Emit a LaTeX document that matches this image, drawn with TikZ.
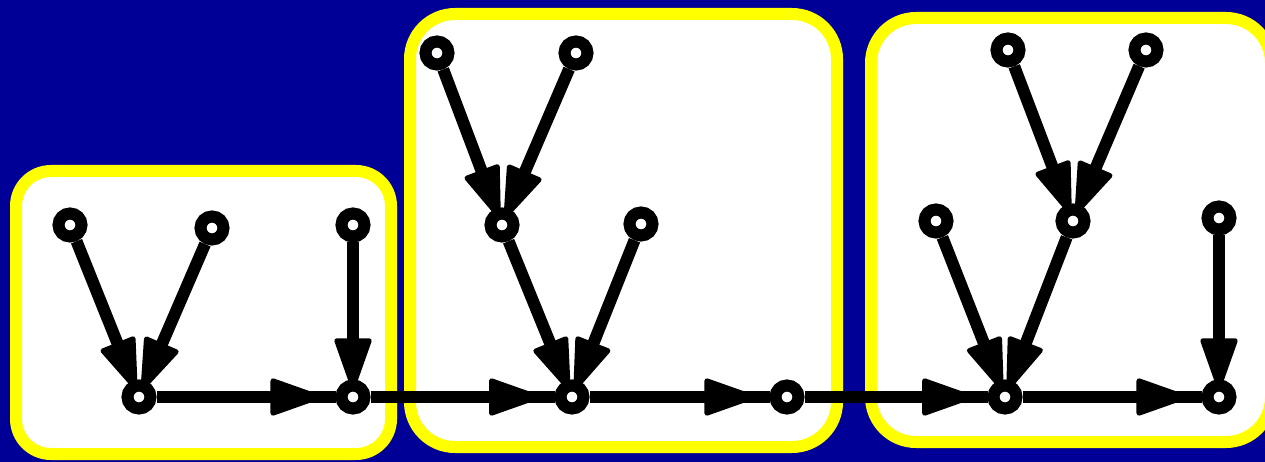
\documentclass[tikz,border=0pt]{standalone}
\usepackage{xcolor}
\usepackage{tikz}
\usetikzlibrary{arrows.meta, decorations.markings}
\definecolor{navybg}{RGB}{0,0,150}
\definecolor{groupyellow}{RGB}{255,255,0}
\tikzset{
  >={Triangle[length=56pt, width=38pt, line width=5pt, round]},
  dot/.style={circle, draw=black, fill=white, line width=12pt, minimum size=23pt, inner sep=0pt},
  group/.style={draw=groupyellow, fill=white, line width=12pt, rounded corners=40pt},
  feed/.style={line width=12pt, ->, shorten >=-9.5pt},
  flow/.style={line width=12pt, postaction={decorate},
    decoration={markings, mark=at position 0.92 with {\arrow{>}}}},
}

\begin{document}
\begin{tikzpicture}[x=1pt, y=-1pt]
  % background
  \fill[navybg] (0,0) rectangle (1265,462);
  \useasboundingbox (0,0) rectangle (1265,462);
  % groups
  \draw[group, rounded corners=35pt] (16,171) rectangle (391,454);
  \draw[group, rounded corners=45pt] (410,14) rectangle (837,447);
  \draw[group, rounded corners=45pt] (871,18) rectangle (1271,442);

  % first group
  \node[dot] (p1) at (70,225) {};
  \node[dot] (p2) at (212,228) {};
  \node[dot] (p3) at (353,225) {};
  \node[dot] (p4) at (139,397) {};
  \node[dot] (p5) at (353,397) {};
  % second group
  \node[dot] (q1) at (437,53) {};
  \node[dot] (q2) at (576,53) {};
  \node[dot] (q3) at (502,225) {};
  \node[dot] (q4) at (641,224) {};
  \node[dot] (q5) at (572,397) {};
  \node[dot] (q6) at (787,397) {};
  % third group
  \node[dot] (r1) at (1008,50) {};
  \node[dot] (r2) at (1146,50) {};
  \node[dot] (r3) at (936,221) {};
  \node[dot] (r4) at (1073,221) {};
  \node[dot] (r5) at (1219,218) {};
  \node[dot] (r6) at (1005,397) {};
  \node[dot] (r7) at (1219,397) {};

  % main line
  \draw[flow] (p4) -- (p5);
  \draw[flow] (p5) -- (q5);
  \draw[flow] (q5) -- (q6);
  \draw[flow] (q6) -- (r6);
  \draw[flow] (r6) -- (r7);
  % feeding edges
  \draw[feed] (p1) -- (p4);
  \draw[feed] (p2) -- (p4);
  \draw[feed] (p3) -- (p5);
  \draw[feed] (q1) -- (q3);
  \draw[feed] (q2) -- (q3);
  \draw[feed] (q3) -- (q5);
  \draw[feed] (q4) -- (q5);
  \draw[feed] (r1) -- (r4);
  \draw[feed] (r2) -- (r4);
  \draw[feed] (r3) -- (r6);
  \draw[feed] (r4) -- (r6);
  \draw[feed] (r5) -- (r7);
\end{tikzpicture}
\end{document}
